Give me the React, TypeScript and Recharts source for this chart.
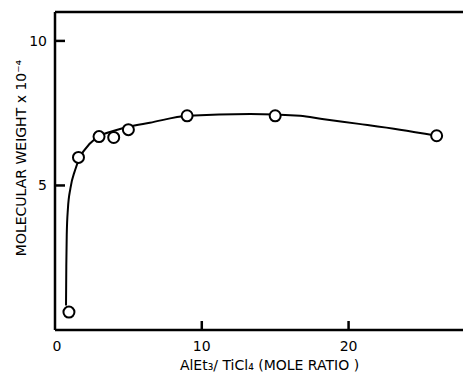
import { ComposedChart, Line, Scatter, XAxis, YAxis, ReferenceLine, Label } from "recharts";

// measured points (circles)
const ratio = [0.95, 1.6, 3.0, 4.0, 5.0, 9.0, 15.0, 26.0];
const molWeight = [0.62, 5.97, 6.69, 6.66, 6.93, 7.41, 7.41, 6.72];

// smooth hand-drawn curve, read along its path
const curveX = [0.75, 0.77, 0.8, 0.88, 1.05, 1.36, 1.7, 2.38, 3.06, 4.08, 5.0, 6.46, 9.05, 13.3, 16.7, 18.2, 20.7, 23.5, 26.0];
const curveY = [0.85, 2.2, 3.3, 4.2, 4.9, 5.52, 5.97, 6.45, 6.72, 6.9, 7.03, 7.17, 7.41, 7.47, 7.41, 7.3, 7.13, 6.93, 6.72];

const xTicks = [0, 10, 20];
const yTicks = [5, 10];

const points = ratio.map((x, i) => ({ x, y: molWeight[i] }));
const curve = curveX.map((x, i) => ({ x, y: curveY[i] }));

const font = "'DejaVu Sans', sans-serif";
const ink = "#000";

function YTick(props: any) {
  const { x, y, payload } = props;
  const axisX = x + 8;
  return (
    <g>
      <line x1={axisX} x2={axisX + 10} y1={y} y2={y} stroke={ink} strokeWidth={2.5} />
      <text x={axisX - 8} y={y + 5} textAnchor="end" fontSize={14} fontFamily={font} fill={ink}>
        {payload.value}
      </text>
    </g>
  );
}

function XTick(props: any) {
  const { x, y, payload } = props;
  const axisY = y - 8;
  return (
    <g>
      {payload.value !== 0 && (
        <line x1={x} x2={x} y1={axisY} y2={axisY - 9} stroke={ink} strokeWidth={2.5} />
      )}
      <text x={payload.value === 0 ? x + 2 : x} y={axisY + 21} textAnchor="middle" fontSize={14} fontFamily={font} fill={ink}>
        {payload.value}
      </text>
    </g>
  );
}

function Circle(props: any) {
  const { cx, cy } = props;
  return <circle cx={cx} cy={cy} r={5.5} fill="#fff" stroke={ink} strokeWidth={2} />;
}

export default function App() {
  return (
    <div style={{ position: "absolute", left: 0, top: 0, width: 463, height: 375, overflow: "hidden", background: "#fff" }}>
      <ComposedChart width={470} height={375} margin={{ top: 12, right: 4, bottom: 0, left: 0 }}>
        <XAxis
          type="number"
          dataKey="x"
          domain={[0, 28]}
          ticks={xTicks}
          height={45}
          axisLine={{ stroke: ink, strokeWidth: 2.5 }}
          tickLine={false}
          tick={<XTick />}
        >
          <Label
            content={(p: any) => (
              <text
                x={p.viewBox.x + p.viewBox.width / 2 + 9}
                y={p.viewBox.y + 40}
                textAnchor="middle"
                fontSize={14}
                fontFamily={font}
                fill={ink}
              >
                AlEt₃/ TiCl₄ (MOLE RATIO )
              </text>
            )}
          />
        </XAxis>
        <YAxis
          type="number"
          dataKey="y"
          domain={[0, 11]}
          ticks={yTicks}
          width={55}
          axisLine={{ stroke: ink, strokeWidth: 2.5 }}
          tickLine={false}
          tick={<YTick />}
        >
          <Label
            content={(p: any) => {
              const cx = p.viewBox.x + 21;
              const cy = p.viewBox.y + p.viewBox.height / 2 - 13;
              return (
                <text
                  x={cx}
                  y={cy}
                  transform={`rotate(-90, ${cx}, ${cy})`}
                  textAnchor="middle"
                  dominantBaseline="central"
                  fontSize={14}
                  fontFamily={font}
                  fill={ink}
                >
                  MOLECULAR WEIGHT x 10⁻⁴
                </text>
              );
            }}
          />
        </YAxis>
        <ReferenceLine y={11} stroke={ink} strokeWidth={2.5} />
        <Line
          data={curve}
          dataKey="y"
          type="monotone"
          stroke={ink}
          strokeWidth={2}
          dot={false}
          activeDot={false}
          isAnimationActive={false}
        />
        <Scatter data={points} dataKey="y" shape={<Circle />} isAnimationActive={false} />
      </ComposedChart>
    </div>
  );
}
